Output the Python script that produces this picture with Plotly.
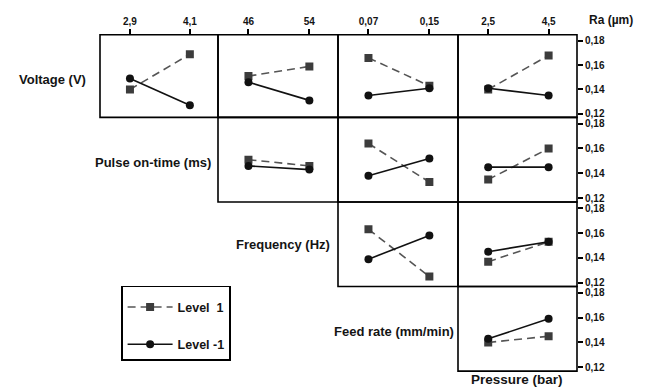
import plotly.graph_objects as go

W, H = 652, 388

# factors on the rows (trace grouping) and the x-axis levels of each column
row_factors = ["Voltage (V)", "Pulse on-time (ms)", "Frequency (Hz)", "Feed rate (mm/min)"]
col_ticks = [["2,9", "4,1"], ["46", "54"], ["0,07", "0,15"], ["2,5", "4,5"]]
y_ticks = [0.12, 0.14, 0.16, 0.18]
y_ticktext = ["0,12", "0,14", "0,16", "0,18"]

# mean Ra (µm); row i holds the panels of columns i..3
ra_level_pos = [
    [[0.140, 0.169], [0.151, 0.159], [0.166, 0.143], [0.140, 0.168]],
    [[0.151, 0.146], [0.164, 0.133], [0.135, 0.160]],
    [[0.163, 0.125], [0.137, 0.153]],
    [[0.140, 0.145]],
]
ra_level_neg = [
    [[0.149, 0.127], [0.146, 0.131], [0.135, 0.141], [0.141, 0.135]],
    [[0.146, 0.143], [0.138, 0.152], [0.145, 0.145]],
    [[0.139, 0.158], [0.145, 0.153]],
    [[0.143, 0.159]],
]

# panel grid in pixels
col_edges = [100, 218, 338, 458, 577]
row_edges = [35, 118, 203, 288, 373]

FONT = "Liberation Sans, Arial, sans-serif"
SQ_COLOR = "#3c3c3c"
DASH_COLOR = "#555555"
CIRC_COLOR = "#111111"
TXT = "#141414"

fig = go.Figure()
layout_axes = {}
shapes = []
n = 0
for r in range(4):
    for c in range(r, 4):
        n += 1
        xa = "x" if n == 1 else f"x{n}"
        ya = "y" if n == 1 else f"y{n}"
        xkey = "xaxis" if n == 1 else f"xaxis{n}"
        ykey = "yaxis" if n == 1 else f"yaxis{n}"
        xs = [0, 1]
        pos = ra_level_pos[r][c - r]
        neg = ra_level_neg[r][c - r]
        first = n == 1
        fig.add_trace(go.Scatter(
            x=xs, y=pos, xaxis=xa, yaxis=ya, mode="lines+markers",
            name="Level\u00a0\u00a01", legendgroup="p", showlegend=first,
            line=dict(color=DASH_COLOR, width=1.6, dash="8px,5px"),
            marker=dict(symbol="square", size=8, color=SQ_COLOR),
        ))
        fig.add_trace(go.Scatter(
            x=xs, y=neg, xaxis=xa, yaxis=ya, mode="lines+markers",
            name="Level -1", legendgroup="n", showlegend=first,
            line=dict(color=CIRC_COLOR, width=1.6),
            marker=dict(symbol="circle", size=8, color=CIRC_COLOR),
        ))
        top_row = r == 0
        last_col = c == 3
        layout_axes[xkey] = dict(
            domain=[col_edges[c] / W, col_edges[c + 1] / W],
            anchor=ya, range=[-0.5, 1.47],
            showline=False, showgrid=False, zeroline=False,
            side="top",
            tickvals=[0, 1], ticktext=col_ticks[c],
            ticks="outside" if top_row else "", ticklen=5, tickwidth=1.5, tickcolor="black",
            showticklabels=top_row,
            tickfont=dict(family=FONT, size=10, color=TXT, weight="bold"),
        )
        layout_axes[ykey] = dict(
            domain=[1 - row_edges[r + 1] / H, 1 - row_edges[r] / H],
            anchor=xa, range=[0.117, 0.185],
            showline=False, showgrid=False, zeroline=False,
            side="right",
            tickvals=y_ticks, ticktext=y_ticktext,
            ticks="outside" if last_col else "", ticklen=5, tickwidth=1.5, tickcolor="black",
            showticklabels=last_col,
            tickfont=dict(family=FONT, size=10, color=TXT, weight="bold"),
        )
        # panel frame
        shapes.append(dict(
            type="rect", xref="paper", yref="paper",
            x0=col_edges[c] / W, x1=col_edges[c + 1] / W,
            y0=1 - row_edges[r + 1] / H, y1=1 - row_edges[r] / H,
            line=dict(color="black", width=1.6), fillcolor="rgba(0,0,0,0)",
        ))

fig.update_layout(**layout_axes)

annotations = []
label_pos = [(88, 80), (213, 163), (332, 246), (456, 333)]
for name, (lx, ly) in zip(row_factors, label_pos):
    annotations.append(dict(
        text=name, xref="paper", yref="paper", x=lx / W, y=1 - ly / H,
        xanchor="right", yanchor="middle", showarrow=False,
        font=dict(family=FONT, size=13, color=TXT, weight="bold"),
    ))
annotations.append(dict(
    text="Ra (µm)", xref="paper", yref="paper", x=611 / W, y=1 - 20 / H,
    xanchor="center", yanchor="middle", showarrow=False,
    font=dict(family=FONT, size=12, color=TXT, weight="bold"),
))
annotations.append(dict(
    text="Pressure (bar)", xref="paper", yref="paper", x=517 / W, y=1 - 381 / H,
    xanchor="center", yanchor="middle", showarrow=False,
    font=dict(family=FONT, size=13.5, color=TXT, weight="bold"),
))

fig.update_layout(
    width=W, height=H,
    margin=dict(l=0, r=0, t=0, b=0),
    paper_bgcolor="white", plot_bgcolor="white",
    annotations=annotations,
    shapes=shapes,
    legend=dict(
        x=121 / W, y=1 - 287 / H, xanchor="left", yanchor="top",
        bordercolor="black", borderwidth=1.6, bgcolor="white",
        tracegroupgap=18, itemwidth=45, entrywidth=116,
        title=dict(text="&nbsp;", font=dict(size=4)),
        font=dict(family=FONT, size=12.5, color=TXT, weight="bold"),
    ),
)

fig.write_html("out.html")
